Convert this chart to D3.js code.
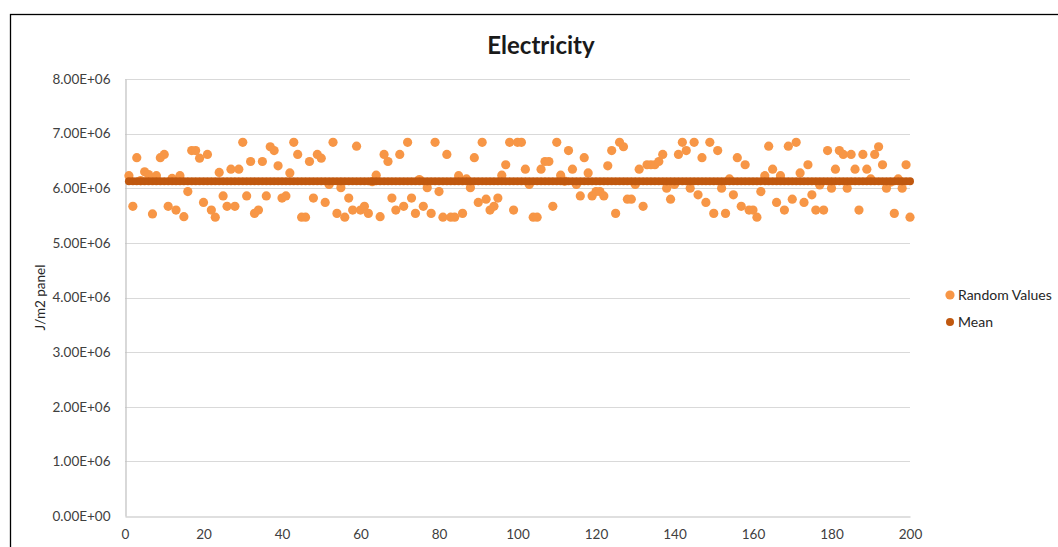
<!DOCTYPE html>
<html>
<head>
<meta charset="utf-8">
<script src="https://cdn.jsdelivr.net/npm/d3@7"></script>
<style>
  html, body { margin: 0; padding: 0; background: #fff; overflow: hidden; }
  text { font-family: Lato, "Open Sans", sans-serif; }
</style>
</head>
<body>
<div id="chart"></div>
<script>
// Chart data
var chartTitle = "Electricity";
var yAxisTitle = "J/m2 panel";
var seriesNames = ["Random Values", "Mean"];

// Random values, runs 1..200 (J/m2 panel, in millions)
var randomValues = [
  6.23, 5.67, 6.56, 6.14, 6.30, 6.25, 5.53, 6.23, 6.56, 6.62,
  5.67, 6.18, 5.60, 6.23, 5.48, 5.94, 6.69, 6.69, 6.55, 5.74,
  6.62, 5.60, 5.47, 6.29, 5.86, 5.67, 6.35, 5.67, 6.35, 6.84,
  5.86, 6.49, 5.54, 5.60, 6.49, 5.86, 6.76, 6.69, 6.41, 5.82,
  5.86, 6.28, 6.84, 6.62, 5.47, 5.47, 6.49, 5.82, 6.62, 6.55,
  5.74, 6.07, 6.84, 5.54, 6.01, 5.47, 5.82, 5.60, 6.77, 5.60,
  5.67, 5.54, 6.12, 6.24, 5.48, 6.62, 6.49, 5.82, 5.60, 6.62,
  5.67, 6.84, 5.82, 5.54, 6.16, 5.67, 6.01, 5.54, 6.84, 5.94,
  5.47, 6.62, 5.47, 5.47, 6.23, 5.54, 6.17, 6.01, 6.56, 5.74,
  6.84, 5.80, 5.60, 5.67, 5.82, 6.24, 6.43, 6.84, 5.60, 6.84,
  6.84, 6.35, 6.07, 5.47, 5.47, 6.35, 6.49, 6.49, 5.67, 6.84,
  6.24, 6.13, 6.69, 6.35, 6.07, 5.86, 6.56, 6.28, 5.86, 5.94,
  5.94, 5.86, 6.41, 6.69, 5.54, 6.84, 6.76, 5.80, 5.80, 6.07,
  6.35, 5.67, 6.43, 6.43, 6.43, 6.49, 6.62, 6.00, 5.80, 6.07,
  6.62, 6.84, 6.69, 6.00, 6.84, 5.88, 6.56, 5.74, 6.84, 5.54,
  6.69, 6.00, 5.54, 6.17, 5.88, 6.56, 5.67, 6.43, 5.60, 5.60,
  5.47, 5.94, 6.23, 6.77, 6.35, 5.74, 6.23, 5.60, 6.77, 5.80,
  6.84, 6.28, 5.74, 6.43, 5.88, 5.60, 6.06, 5.60, 6.69, 6.00,
  6.35, 6.69, 6.62, 6.00, 6.62, 6.35, 5.60, 6.62, 6.35, 6.17,
  6.62, 6.76, 6.43, 6.00, 6.11, 5.54, 6.17, 6.00, 6.43, 5.47
];
var meanValue = 6.13; // millions

var xTicks = [0, 20, 40, 60, 80, 100, 120, 140, 160, 180, 200];
var yTicks = [0, 1e6, 2e6, 3e6, 4e6, 5e6, 6e6, 7e6, 8e6];

var width = 1058, height = 547;
var plot = { left: 125, right: 910, top: 79, bottom: 516 };
var colRandom = "#F79646";
var colMean = "#C0580F";

var svg = d3.select("#chart").append("svg")
  .attr("width", width)
  .attr("height", height);

// outer chart border
svg.append("rect")
  .attr("x", 10.5).attr("y", 14.5)
  .attr("width", 1100).attr("height", 600)
  .attr("fill", "#fff")
  .attr("stroke", "#000").attr("stroke-width", 1.3);

var x = d3.scaleLinear().domain([0, 200]).range([plot.left, plot.right]);
var y = d3.scaleLinear().domain([0, 8e6]).range([plot.bottom, plot.top]);

function sciFmt(v) {
  if (v === 0) return "0.00E+00";
  var e = Math.floor(Math.log10(v));
  var m = v / Math.pow(10, e);
  return m.toFixed(2) + "E+" + (e < 10 ? "0" + e : e);
}

// gridlines
svg.append("g")
  .selectAll("line")
  .data(yTicks.slice(1))
  .join("line")
  .attr("x1", plot.left).attr("x2", plot.right)
  .attr("y1", d => Math.round(y(d)) + 0.5).attr("y2", d => Math.round(y(d)) + 0.5)
  .attr("stroke", "#D9D9D9").attr("stroke-width", 1);

// y axis
var yAxis = svg.append("g")
  .attr("transform", "translate(" + (plot.left + 0.5) + ",0)")
  .call(d3.axisLeft(y).tickValues(yTicks).tickFormat(sciFmt).tickSize(0).tickPadding(15));
yAxis.select(".domain").attr("stroke", "#BFBFBF").attr("stroke-width", 1.2);
yAxis.selectAll("text").attr("fill", "#404040").style("font-size", "13.5px");

// x axis
var xAxis = svg.append("g")
  .attr("transform", "translate(0," + (plot.bottom + 0.5) + ")")
  .call(d3.axisBottom(x).tickValues(xTicks).tickFormat(d3.format("d")).tickSize(0).tickPadding(13));
xAxis.select(".domain").attr("stroke", "#BFBFBF").attr("stroke-width", 1.2);
xAxis.selectAll("text").attr("fill", "#404040").style("font-size", "13.5px");

// title
svg.append("text")
  .attr("x", 541).attr("y", 54)
  .attr("text-anchor", "middle")
  .attr("font-weight", "bold")
  .attr("font-size", "24px")
  .attr("fill", "#1a1a1a")
  .text(chartTitle);

// y axis title
svg.append("text")
  .attr("transform", "translate(45," + ((plot.top + plot.bottom) / 2) + ") rotate(-90)")
  .attr("text-anchor", "middle")
  .attr("font-size", "13.5px")
  .attr("fill", "#262626")
  .text(yAxisTitle);

// series
var idx = d3.range(1, randomValues.length + 1);

svg.append("g")
  .selectAll("circle")
  .data(randomValues)
  .join("circle")
  .attr("cx", (d, i) => x(idx[i]))
  .attr("cy", d => y(d * 1e6))
  .attr("r", 4.6)
  .attr("fill", colRandom);

svg.append("g")
  .selectAll("circle")
  .data(idx)
  .join("circle")
  .attr("cx", d => x(d))
  .attr("cy", y(meanValue * 1e6))
  .attr("r", 4)
  .attr("fill", colMean);

// legend
var legend = svg.append("g");
var legendY = [295, 322];
var legendCol = [colRandom, colMean];
seriesNames.forEach(function (name, i) {
  legend.append("circle")
    .attr("cx", 950).attr("cy", legendY[i])
    .attr("r", i === 0 ? 4.6 : 4)
    .attr("fill", legendCol[i]);
  legend.append("text")
    .attr("x", 958).attr("y", legendY[i] + 5)
    .attr("font-size", "14px")
    .attr("fill", "#262626")
    .text(name);
});
</script>
</body>
</html>
